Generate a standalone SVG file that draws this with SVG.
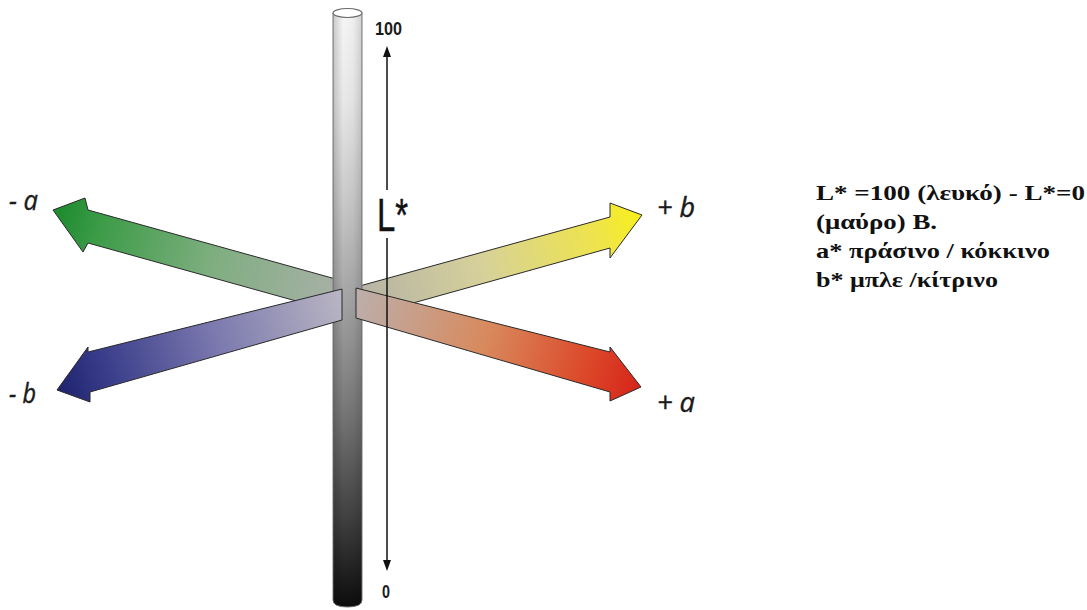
<svg xmlns="http://www.w3.org/2000/svg" width="1087" height="610" viewBox="0 0 1087 610">
  <style>
    .arrow { stroke: #2a2a2a; stroke-width: 1; stroke-linejoin: miter; }
    .axislabel { font-family: "Open Sans", "Noto Sans", sans-serif; font-style: italic; font-size: 27px; fill: #1a1a1a; stroke: #1a1a1a; stroke-width: 0.4; }
    .scale { font-family: "Liberation Sans", Arial, sans-serif; font-weight: bold; font-size: 19px; fill: #1a1a1a; }
    .lstar { font-family: "Liberation Sans", Arial, sans-serif; font-size: 46px; fill: #111; stroke: #111; stroke-width: 0.5; }
    .note { font-family: "Liberation Serif", "Times New Roman", serif; font-weight: bold; font-size: 22px; fill: #111; }
  </style>
  <defs>
    <linearGradient id="gCyl" x1="0" y1="0" x2="0" y2="1">
      <stop offset="0" stop-color="#f6f6f6"/>
      <stop offset="0.15" stop-color="#e8e8e8"/>
      <stop offset="0.33" stop-color="#c6c6c6"/>
      <stop offset="0.5" stop-color="#a0a0a0"/>
      <stop offset="0.67" stop-color="#777"/>
      <stop offset="0.84" stop-color="#444"/>
      <stop offset="1" stop-color="#0c0c0c"/>
    </linearGradient>
    <linearGradient id="gCylH" x1="0" y1="0" x2="1" y2="0">
      <stop offset="0" stop-color="#000" stop-opacity="0.18"/>
      <stop offset="0.35" stop-color="#000" stop-opacity="0"/>
      <stop offset="0.7" stop-color="#000" stop-opacity="0.03"/>
      <stop offset="1" stop-color="#000" stop-opacity="0.15"/>
    </linearGradient>
    <linearGradient id="gMinusA" gradientUnits="userSpaceOnUse" x1="340" y1="295" x2="60" y2="212">
      <stop offset="0" stop-color="#a9b0a8"/>
      <stop offset="0.45" stop-color="#7fae80"/>
      <stop offset="0.85" stop-color="#3d9c48"/>
      <stop offset="1" stop-color="#1f8c30"/>
    </linearGradient>
    <linearGradient id="gPlusB" gradientUnits="userSpaceOnUse" x1="350" y1="300" x2="640" y2="215">
      <stop offset="0" stop-color="#b3b0a6"/>
      <stop offset="0.45" stop-color="#d6d19a"/>
      <stop offset="0.85" stop-color="#efe44a"/>
      <stop offset="1" stop-color="#f8ef1c"/>
    </linearGradient>
    <linearGradient id="gMinusB" gradientUnits="userSpaceOnUse" x1="342" y1="305" x2="60" y2="390">
      <stop offset="0" stop-color="#b8b4c2"/>
      <stop offset="0.45" stop-color="#7a78ae"/>
      <stop offset="0.85" stop-color="#363a88"/>
      <stop offset="1" stop-color="#20246e"/>
    </linearGradient>
    <linearGradient id="gPlusA" gradientUnits="userSpaceOnUse" x1="356" y1="303" x2="640" y2="387">
      <stop offset="0" stop-color="#bcaeaa"/>
      <stop offset="0.45" stop-color="#d88a5e"/>
      <stop offset="0.8" stop-color="#dc4a2a"/>
      <stop offset="1" stop-color="#d6241a"/>
    </linearGradient>
  </defs>

  <rect width="1087" height="610" fill="#ffffff"/>

  <g id="connectors">
    <polygon id="arrow-minus-a" class="arrow" fill="url(#gMinusA)" points="350,283 88,210 85,198 53,210 83,252 88,243 350,316"/>
    <polygon id="arrow-plus-b" class="arrow" fill="url(#gPlusB)" points="345,290 610,217 610,203 642,215 610,258 610,248 345,322"/>
  </g>

  <g id="cylinder-L">
    <path d="M333,13 L333,600 Q333,607 347.5,607 Q362,607 362,600 L362,13 Z" fill="url(#gCyl)" stroke="#7a7a7a" stroke-width="1"/>
    <path d="M333,13 L333,600 Q333,607 347.5,607 Q362,607 362,600 L362,13 Z" fill="url(#gCylH)"/>
    <ellipse cx="347.5" cy="13" rx="14.5" ry="4.5" fill="#ffffff" stroke="#6a6a6a" stroke-width="1.2"/>
  </g>

  <g id="connectors-front">
    <polygon id="arrow-minus-b" class="arrow" fill="url(#gMinusB)" points="342,289 88,352 88,347 57,390 90,402 90,392 342,320"/>
    <polygon id="arrow-plus-a" class="arrow" fill="url(#gPlusA)" points="356,288 610,352 610,347 641,387 610,401 610,392 356,318"/>
  </g>

  <g id="lightness-axis">
    <line x1="387" y1="55" x2="387" y2="190" stroke="#111" stroke-width="1.5"/>
    <line x1="387" y1="238" x2="387" y2="562" stroke="#111" stroke-width="1.5"/>
    <polygon points="387,46 383,57 391,57" fill="#111"/>
    <polygon points="387,571 383,560 391,560" fill="#111"/>
    <text class="scale" x="375" y="35" textLength="27" lengthAdjust="spacingAndGlyphs">100</text>
    <text class="scale" x="382" y="598" textLength="8" lengthAdjust="spacingAndGlyphs">0</text>
    <text class="lstar" x="377" y="231" textLength="31" lengthAdjust="spacingAndGlyphs">L*</text>
  </g>

  <g id="labels">
    <text class="axislabel" x="9" y="210" textLength="29" lengthAdjust="spacingAndGlyphs">- a</text>
    <text class="axislabel" x="9" y="403" textLength="27" lengthAdjust="spacingAndGlyphs">- b</text>
    <text class="axislabel" x="657" y="217" textLength="38" lengthAdjust="spacingAndGlyphs">+ b</text>
    <text class="axislabel" x="657" y="412" textLength="38" lengthAdjust="spacingAndGlyphs">+ a</text>
  </g>

  <g id="legend">
    <text class="note" x="816" y="200" textLength="269" lengthAdjust="spacingAndGlyphs">L* =100 (λευκό) - L*=0</text>
    <text class="note" x="816" y="229" textLength="121" lengthAdjust="spacingAndGlyphs">(μαύρο) B.</text>
    <text class="note" x="816" y="258" textLength="234" lengthAdjust="spacingAndGlyphs">a* πράσινο / κόκκινο</text>
    <text class="note" x="816" y="287" textLength="182" lengthAdjust="spacingAndGlyphs">b* μπλε /κίτρινο</text>
  </g>
</svg>
